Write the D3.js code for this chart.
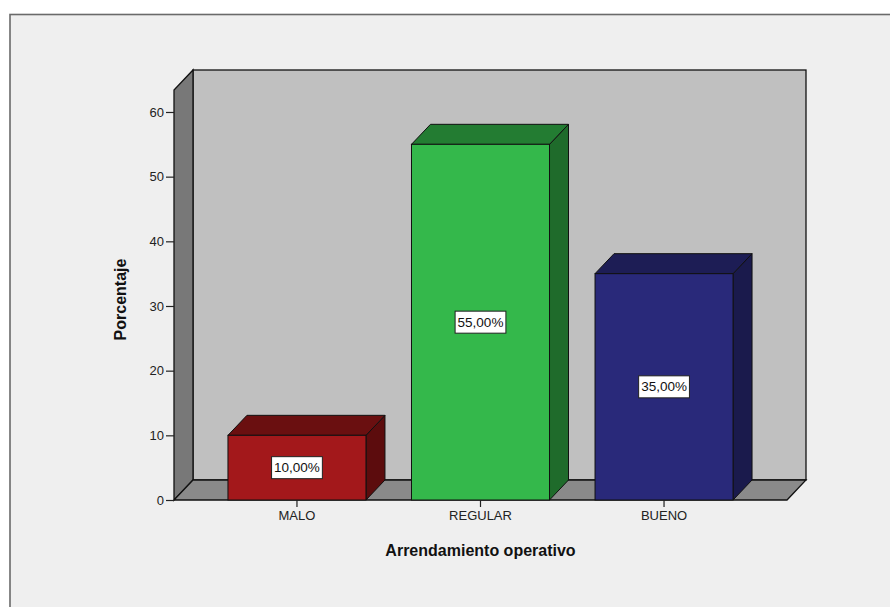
<!DOCTYPE html>
<html>
<head>
<meta charset="utf-8">
<script src="https://cdn.jsdelivr.net/npm/d3@7"></script>
<style>
  html, body { margin: 0; padding: 0; background: #ffffff; }
  svg { display: block; font-family: Arial, "Liberation Sans", sans-serif; }
</style>
</head>
<body>
<svg id="chart" width="890" height="607"></svg>
<script>
// Data
const categories = ["MALO", "REGULAR", "BUENO"];
const percentages = [10, 55, 35];
const valueLabels = ["10,00%", "55,00%", "35,00%"];
const yTicks = [0, 10, 20, 30, 40, 50, 60];
const frontColors = ["#a3181b", "#34b84b", "#29297a"];
const topColors   = ["#6a0f10", "#237c32", "#1d1d55"];
const sideColors  = ["#5c0c0d", "#1f6b2b", "#1a1a4c"];
const xTitle = "Arrendamiento operativo";
const yTitle = "Porcentaje";
const yDomainMax = 63.4;

const svg = d3.select("#chart");

// Panel background
svg.append("rect")
  .attr("x", 10).attr("y", 14.5)
  .attr("width", 900).attr("height", 610)
  .attr("fill", "#efefef")
  .attr("stroke", "#6a6a6a")
  .attr("stroke-width", 1.6);

// Plot geometry
const x0 = 174, x1 = 787;   // front floor extent
const dx = 19, dy = -20;    // 3D depth offset

const y = d3.scaleLinear().domain([0, yDomainMax]).range([500, 90]);
const x = d3.scaleBand().domain(categories).range([x0, x1])
  .paddingInner(0.248).paddingOuter(0.294);

const yBase = y(0), yTop = y(yDomainMax);

// Back wall
svg.append("rect")
  .attr("x", x0 + dx).attr("y", yTop + dy)
  .attr("width", x1 - x0).attr("height", yBase - yTop)
  .attr("fill", "#c0c0c0").attr("stroke", "#111").attr("stroke-width", 1.3);

// Left side wall
svg.append("polygon")
  .attr("points", [[x0, yBase], [x0, yTop], [x0 + dx, yTop + dy], [x0 + dx, yBase + dy]].join(" "))
  .attr("fill", "#787878").attr("stroke", "#111").attr("stroke-width", 1.3);

// Floor
svg.append("polygon")
  .attr("points", [[x0, yBase], [x1, yBase], [x1 + dx, yBase + dy], [x0 + dx, yBase + dy]].join(" "))
  .attr("fill", "#8a8a8a").attr("stroke", "#111").attr("stroke-width", 1.3);

// Bars
const bars = svg.append("g").selectAll("g").data(categories).join("g");
bars.each(function(c, i) {
  const g = d3.select(this);
  const bx = x(c), bw = x.bandwidth(), by = y(percentages[i]);
  // side face
  g.append("polygon")
    .attr("points", [[bx + bw, yBase], [bx + bw, by], [bx + bw + dx, by + dy], [bx + bw + dx, yBase + dy]].join(" "))
    .attr("fill", sideColors[i]).attr("stroke", "#111").attr("stroke-width", 1);
  // top face
  g.append("polygon")
    .attr("points", [[bx, by], [bx + bw, by], [bx + bw + dx, by + dy], [bx + dx, by + dy]].join(" "))
    .attr("fill", topColors[i]).attr("stroke", "#111").attr("stroke-width", 1);
  // front face
  g.append("rect")
    .attr("x", bx).attr("y", by).attr("width", bw).attr("height", yBase - by)
    .attr("fill", frontColors[i]).attr("stroke", "#111").attr("stroke-width", 1);
  // value label
  const cx = bx + bw / 2, cy = y(percentages[i] / 2);
  const t = g.append("text")
    .attr("x", cx).attr("y", cy)
    .attr("text-anchor", "middle").attr("dominant-baseline", "central")
    .attr("font-size", 13.5).attr("fill", "#111")
    .text(valueLabels[i]);
  const bb = t.node().getBBox();
  g.insert("rect", "text")
    .attr("x", bb.x - 2.5).attr("y", cy - 11)
    .attr("width", bb.width + 5).attr("height", 22)
    .attr("fill", "#ffffff").attr("stroke", "#222").attr("stroke-width", 1);
});

// Y axis
const yAxis = svg.append("g")
  .attr("transform", `translate(${x0},0)`)
  .call(d3.axisLeft(y).tickValues(yTicks).tickSize(8).tickPadding(2).tickFormat(d3.format("d")));
yAxis.select(".domain").remove();
yAxis.selectAll("line").attr("stroke", "#222").attr("stroke-width", 1.2);
yAxis.selectAll("text").attr("font-size", 13).attr("fill", "#222")
  .attr("font-family", "Arial, 'Liberation Sans', sans-serif");

// X axis
const xAxis = svg.append("g")
  .attr("transform", `translate(0,${yBase})`)
  .call(d3.axisBottom(x).tickSize(7).tickPadding(4));
xAxis.select(".domain").remove();
xAxis.selectAll("line").attr("stroke", "#222").attr("stroke-width", 1.2);
xAxis.selectAll("text").attr("font-size", 13).attr("fill", "#222")
  .attr("font-family", "Arial, 'Liberation Sans', sans-serif");

// Axis titles
svg.append("text")
  .attr("x", (x0 + x1) / 2).attr("y", 556)
  .attr("text-anchor", "middle")
  .attr("font-size", 16).attr("font-weight", "bold").attr("fill", "#111")
  .text(xTitle);

svg.append("text")
  .attr("transform", `translate(126,${y(31)}) rotate(-90)`)
  .attr("text-anchor", "middle")
  .attr("font-size", 16).attr("font-weight", "bold").attr("fill", "#111")
  .text(yTitle);
</script>
</body>
</html>
